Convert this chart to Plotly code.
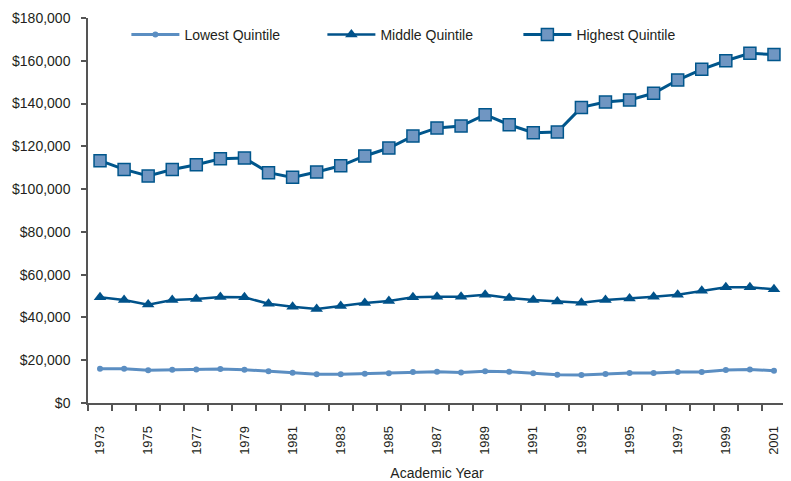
import plotly.graph_objects as go

years = list(range(1973, 2002))
lowest = [16.0, 16.0, 15.3, 15.6, 15.7, 15.9, 15.6, 14.8, 14.2, 13.4, 13.4, 13.7, 13.9,
          14.5, 14.6, 14.3, 14.8, 14.6, 13.9, 13.2, 13.1, 13.6, 14.0, 14.0, 14.5, 14.5,
          15.4, 15.7, 15.1]
middle = [49.4, 48.2, 46.0, 48.2, 48.6, 49.6, 49.4, 46.4, 45.0, 43.9, 45.3, 46.7, 47.7,
          49.4, 49.7, 49.7, 50.6, 49.1, 48.2, 47.5, 46.9, 48.2, 48.8, 49.7, 50.6, 52.5,
          54.1, 54.1, 53.2]
highest = [113.3, 109.2, 106.1, 109.2, 111.4, 114.2, 114.5, 107.7, 105.5, 108.0, 110.9,
           115.5, 119.2, 124.8, 128.6, 129.5, 134.8, 130.1, 126.4, 126.7, 138.2, 140.7,
           141.7, 144.8, 151.0, 156.0, 160.0, 163.5, 162.9]
lowest = [v * 1000 for v in lowest]
middle = [v * 1000 for v in middle]
highest = [v * 1000 for v in highest]

label_years = list(range(1973, 2002, 2))
label_text = [str(y) for y in label_years]
y_ticks = list(range(0, 180001, 20000))
y_text = ["$" + format(v, ",") for v in y_ticks]

FONT = "Liberation Sans, Arial, sans-serif"
TXT = "#231f20"

fig = go.Figure()
fig.add_trace(go.Scatter(
    x=years, y=lowest, name="Lowest Quintile", mode="lines+markers",
    line=dict(color="#5b8ec2", width=3),
    marker=dict(symbol="circle", size=6, color="#5b8ec2"),
))
fig.add_trace(go.Scatter(
    x=years, y=middle, name="Middle Quintile", mode="lines+markers",
    line=dict(color="#00528a", width=2.5),
    marker=dict(symbol="triangle-up", size=11, color="#00528a"),
))
fig.add_trace(go.Scatter(
    x=years, y=highest, name="Highest Quintile", mode="lines+markers",
    line=dict(color="#00568c", width=3),
    marker=dict(symbol="square", size=12, color="#7096c2",
                line=dict(color="#00568c", width=1.5)),
))

fig.update_layout(
    width=783, height=473,
    margin=dict(l=80, r=5, t=10, b=78),
    paper_bgcolor="white", plot_bgcolor="white",
    font=dict(family=FONT, size=14, color=TXT),
    legend=dict(orientation="h", x=0.055, y=0.956, xanchor="left", yanchor="middle",
                entrywidth=133, entrywidthmode="pixels", itemwidth=48,
                font=dict(family=FONT, size=14, color=TXT),
                bgcolor="rgba(0,0,0,0)"),
    xaxis=dict(
        range=[1972.5, 2001.5], showgrid=False, zeroline=False, automargin=False,
        showline=True, linecolor="#555555", linewidth=1.5,
        tickvals=label_years, ticktext=label_text, tickangle=-90,
        ticks="", ticklabelstandoff=16,
        tickfont=dict(family=FONT, size=13, color=TXT),
        minor=dict(tickvals=[y - 0.5 for y in years] + [2001.5], ticks="outside",
                   ticklen=6, tickcolor="#555555", tickwidth=1.5, showgrid=False),
        title=dict(text="Academic Year", font=dict(family=FONT, size=14, color=TXT),
                   standoff=14),
    ),
    yaxis=dict(
        range=[0, 180000], showgrid=False, zeroline=False, automargin=False,
        showline=True, linecolor="#555555", linewidth=1.5,
        tickvals=y_ticks, ticktext=y_text, ticks="outside", ticklen=5,
        tickcolor="#555555", tickwidth=1.5, ticklabelstandoff=8,
        tickfont=dict(family=FONT, size=14, color=TXT),
    ),
)

fig.write_html("out.html")
